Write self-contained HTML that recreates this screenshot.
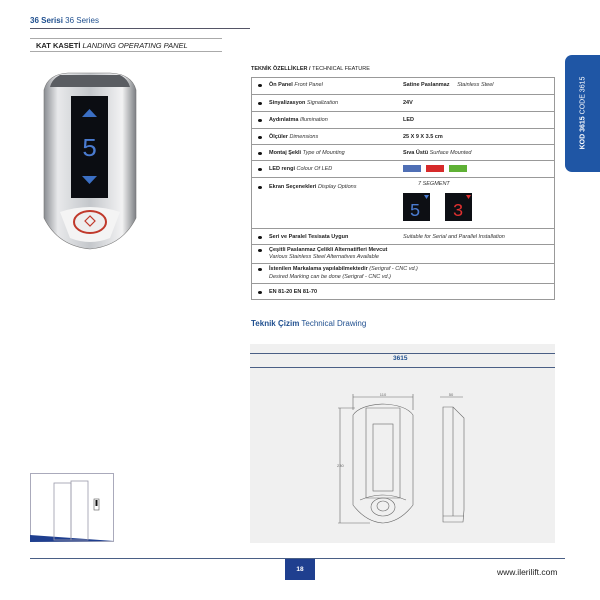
<!DOCTYPE html>
<html><head><meta charset="utf-8"><style>
body{margin:0;width:600px;height:600px;background:#fff;position:relative;overflow:hidden;font-family:"Liberation Sans",sans-serif;color:#222}
.a{position:absolute;white-space:nowrap}
.r{position:absolute;left:251px;width:304px;border-bottom:1px solid #999;font-size:5.5px}
.r b{font-weight:bold}
.r i{color:#333}
.dot{position:absolute;left:7px;width:4px;height:3px;border-radius:50%;background:#111}
</style></head><body>
<div class="a" style="left:30px;top:16px;font-size:8px;color:#1f4f8f"><b>36 Serisi</b> 36 Series</div>
<div class="a" style="left:30px;top:28px;width:220px;height:1px;background:#556"></div>
<div class="a" style="left:30px;top:38px;width:192px;height:1px;background:#aaa"></div>
<div class="a" style="left:36px;top:41px;font-size:7.5px;color:#222"><b>KAT KASETİ</b> <i>LANDING OPERATING PANEL</i></div>
<div class="a" style="left:30px;top:51px;width:192px;height:1px;background:#aaa"></div>

<svg class="a" style="left:40px;top:70px" width="100" height="182">
<defs><linearGradient id="g" x1="0" x2="1"><stop offset="0" stop-color="#8a8d92"/><stop offset=".15" stop-color="#e8e9eb"/><stop offset=".5" stop-color="#c4c7cb"/><stop offset=".85" stop-color="#f2f2f3"/><stop offset="1" stop-color="#7d8084"/></linearGradient></defs>
<path d="M4 20 Q8 4 28 3 L70 3 Q92 4 96 20 L96 148 Q82 176 50 179 Q18 176 4 148Z" fill="url(#g)" stroke="#777" stroke-width=".6"/>
<path d="M20 5 L80 5 Q88 9 90 17 L10 17 Q12 9 20 5Z" fill="#5a5d62"/>
<rect x="31" y="26" width="37" height="102" fill="#0b0d12"/>
<polygon points="49.5,39 42,47 57,47" fill="#3b6fc4"/>
<text x="49.5" y="86" font-size="26" fill="#4a7bd0" text-anchor="middle" font-family="Liberation Mono">5</text>
<polygon points="49.5,114 42,106 57,106" fill="#3b6fc4"/>
<path d="M20 142 Q50 132 80 142 L70 168 Q50 176 30 168Z" fill="#f4f4f4"/>
<ellipse cx="50" cy="152" rx="16" ry="11" fill="#eee" stroke="#c0392b" stroke-width="2"/>
<polygon points="50,146 45,151 50,156 55,151" fill="none" stroke="#c0392b" stroke-width="1.2"/>
</svg>

<div class="a" style="left:251px;top:66px;font-size:5.5px;font-weight:bold;color:#222">TEKNİK ÖZELLİKLER / <span style="font-weight:normal">TECHNICAL FEATURE</span></div>
<div class="a" style="left:251px;top:77px;width:304px;height:222px;border:1px solid #999;border-bottom:none;border-top:1px solid #999;box-sizing:border-box"></div>
<div class="r" style="top:77px;height:17px"><span class="dot" style="top:7px"></span><span class="a" style="left:18px;top:5px"><b>Ön Panel</b> <i>Front Panel</i></span><span class="a" style="left:152px;top:5px"><b>Satine Paslanmaz</b> &nbsp; &nbsp; <i>Stainless Steel</i></span></div>
<div class="r" style="top:95px;height:16px"><span class="dot" style="top:7px"></span><span class="a" style="left:18px;top:5px"><b>Sinyalizasyon</b> <i>Signalization</i></span><span class="a" style="left:152px;top:5px"><b>24V</b></span></div>
<div class="r" style="top:112px;height:16px"><span class="dot" style="top:7px"></span><span class="a" style="left:18px;top:5px"><b>Aydınlatma</b> <i>Illumination</i></span><span class="a" style="left:152px;top:5px"><b>LED</b></span></div>
<div class="r" style="top:129px;height:15px"><span class="dot" style="top:7px"></span><span class="a" style="left:18px;top:5px"><b>Ölçüler</b> <i>Dimensions</i></span><span class="a" style="left:152px;top:5px"><b>25 X 9 X 3.5 cm</b></span></div>
<div class="r" style="top:145px;height:15px"><span class="dot" style="top:7px"></span><span class="a" style="left:18px;top:5px"><b>Montaj Şekli</b> <i>Type of Mounting</i></span><span class="a" style="left:152px;top:5px"><b>Sıva Üstü</b> <i>Surface Mounted</i></span></div>
<div class="r" style="top:161px;height:16px"><span class="dot" style="top:7px"></span><span class="a" style="left:18px;top:5px"><b>LED rengi</b> <i>Colour Of LED</i></span>
<span class="a" style="left:152px;top:4px;width:18px;height:7px;background:#4f6fb5"></span><span class="a" style="left:175px;top:4px;width:18px;height:7px;background:#d62a2a"></span><span class="a" style="left:198px;top:4px;width:18px;height:7px;background:#5fb135"></span></div>
<div class="r" style="top:178px;height:50px"><span class="dot" style="top:8px"></span><span class="a" style="left:18px;top:6px"><b>Ekran Seçenekleri</b> <i>Display Options</i></span><span class="a" style="left:167px;top:3px"><i>7 SEGMENT</i></span>
<svg class="a" style="left:152px;top:15px" width="70" height="30"><rect x="0" y="0" width="27" height="28" fill="#0d0f14"/><polygon points="21,2 26,2 23.5,6" fill="#4a7bd0"/><text x="12" y="23" font-size="18" fill="#4a7bd0" text-anchor="middle" font-family="Liberation Mono">5</text><rect x="42" y="0" width="27" height="28" fill="#0d0f14"/><polygon points="63,2 68,2 65.5,6" fill="#e03030"/><text x="55" y="23" font-size="18" fill="#e03030" text-anchor="middle" font-family="Liberation Mono">3</text></svg></div>
<div class="r" style="top:229px;height:15px"><span class="dot" style="top:7px"></span><span class="a" style="left:18px;top:5px"><b>Seri ve Paralel Tesisata Uygun</b></span><span class="a" style="left:152px;top:5px"><i>Suitable for Serial and Parallel Installation</i></span></div>
<div class="r" style="top:245px;height:18px"><span class="dot" style="top:4px"></span><span class="a" style="left:18px;top:2px"><b>Çeşitli Paslanmaz Çelikli Alternatifleri Mevcut</b></span><span class="a" style="left:18px;top:9px"><i>Various Stainless Steel Alternatives Available</i></span></div>
<div class="r" style="top:264px;height:19px"><span class="dot" style="top:4px"></span><span class="a" style="left:18px;top:2px"><b>İstenilen Markalama yapılabilmektedir</b> <i>(Serigraf - CNC vd.)</i></span><span class="a" style="left:18px;top:10px"><i>Desired Marking can be done (Serigraf - CNC vd.)</i></span></div>
<div class="r" style="top:284px;height:15px"><span class="dot" style="top:7px"></span><span class="a" style="left:18px;top:5px"><b>EN 81-20 EN 81-70</b></span></div>

<div class="a" style="left:565px;top:55px;width:40px;height:117px;background:#1f56a5;border-radius:7px 0 0 7px"></div>
<div class="a" style="left:583px;top:113px;font-size:7px;color:#fff;transform:translate(-50%,-50%) rotate(-90deg)"><b>KOD 3615</b> CODE 3615</div>

<div class="a" style="left:251px;top:319px;font-size:8px;color:#1f4f8f"><b>Teknik Çizim</b> Technical Drawing</div>
<div class="a" style="left:250px;top:344px;width:305px;height:199px;background:#f0f0f0"></div>
<div class="a" style="left:250px;top:353px;width:305px;height:1px;background:#4a5f85"></div>
<div class="a" style="left:250px;top:367px;width:305px;height:1px;background:#4a5f85"></div>
<div class="a" style="left:393px;top:355px;font-size:6.5px;font-weight:bold;color:#1f4f8f">3615</div>
<svg class="a" style="left:330px;top:390px" width="140" height="140" fill="none" stroke="#666" stroke-width=".6">
<line x1="23" y1="7" x2="83" y2="7"/><line x1="23" y1="4" x2="23" y2="20"/><line x1="83" y1="4" x2="83" y2="20"/>
<text x="53" y="6" font-size="4" fill="#666" stroke="none" text-anchor="middle">110</text>
<line x1="10" y1="18" x2="10" y2="133"/><line x1="8" y1="18" x2="25" y2="18"/><line x1="8" y1="133" x2="40" y2="133"/>
<text x="7" y="77" font-size="4" fill="#666" stroke="none">230</text>
<path d="M23 25 Q30 15 53 14 Q76 15 83 25 L83 115 Q70 132 53 133 Q36 132 23 115Z"/>
<path d="M36 18 L70 18 L70 108 L36 108Z"/><rect x="43" y="34" width="20" height="67"/>
<ellipse cx="53" cy="117" rx="12" ry="9"/><ellipse cx="53" cy="116" rx="6" ry="5"/>
<path d="M30 110 Q53 100 76 110"/>
<line x1="110" y1="7" x2="133" y2="7"/><text x="121" y="6" font-size="4" fill="#666" stroke="none" text-anchor="middle">50</text>
<path d="M113 17 L123 17 L134 28 L134 120 L133 132 L113 132Z"/><line x1="123" y1="17" x2="123" y2="126"/><line x1="113" y1="126" x2="134" y2="126"/>
</svg>

<svg class="a" style="left:30px;top:473px" width="84" height="69">
<rect x=".5" y=".5" width="83" height="68" fill="#fff" stroke="#aab"/>
<path d="M0 62 L84 68 L0 69Z" fill="#1f3f8f"/>
<rect x="24" y="10" width="17" height="57" fill="none" stroke="#99a" stroke-width=".8"/><rect x="41" y="8" width="17" height="59" fill="none" stroke="#99a" stroke-width=".8"/>
<rect x="64" y="26" width="5" height="11" fill="#fff" stroke="#555" stroke-width=".6"/><rect x="65.5" y="27" width="2" height="6" fill="#111"/>
</svg>

<div class="a" style="left:30px;top:558px;width:535px;height:1px;background:#4a5f85"></div>
<div class="a" style="left:285px;top:559px;width:30px;height:21px;background:#1f3f8f;color:#fff;font-size:6.5px;font-weight:bold;text-align:center;line-height:21px">18</div>
<div class="a" style="left:497px;top:567px;font-size:8.5px;color:#222">www.ilerilift.com</div>
</body></html>
